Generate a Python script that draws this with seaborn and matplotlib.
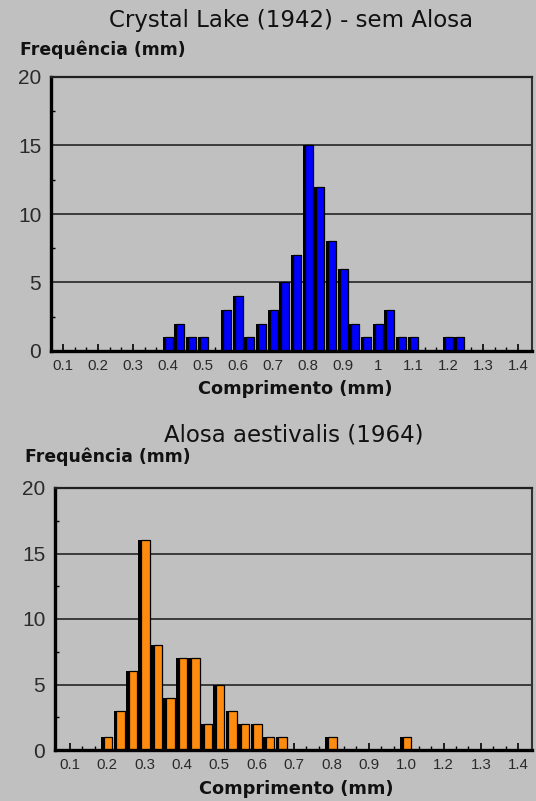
import matplotlib
matplotlib.use("Agg")
import matplotlib.pyplot as plt
import seaborn as sns
import pandas as pd
from matplotlib.ticker import FixedLocator, MultipleLocator

# Panel texts
crystal_title = "Crystal Lake (1942) - sem Alosa"
alosa_title = "Alosa aestivalis (1964)"
y_label = "Frequência (mm)"
x_label = "Comprimento (mm)"

# Counts per length class (three classes per 0.1 mm), first class at 0.1 mm
crystal_counts = [0, 0, 0, 0, 0, 0, 0, 0, 0,
                  1, 2, 1, 1, 0, 3, 4, 1, 2, 3, 5,
                  7, 15, 12, 8, 6, 2, 1, 2, 3, 1,
                  1, 0, 0, 1, 1, 0, 0, 0, 0, 0]
alosa_counts = [0, 0, 0, 1, 3, 6, 16, 8, 4, 7,
                7, 2, 5, 3, 2, 2, 1, 1, 0, 0,
                0, 1, 0, 0, 0, 0, 0, 1, 0, 0,
                0, 0, 0, 0, 0, 0, 0]

# Axis labels shown every third class
crystal_ticklabels = ["0.1", "0.2", "0.3", "0.4", "0.5", "0.6", "0.7",
                      "0.8", "0.9", "1", "1.1", "1.2", "1.3", "1.4"]
alosa_ticklabels = ["0.1", "0.2", "0.3", "0.4", "0.5", "0.6", "0.7",
                    "0.8", "0.9", "1.0", "1.2", "1.3", "1.4"]
y_ticks = [0, 5, 10, 15, 20]

BG = "#C0C0C0"
W, H = 536, 801
WIDE = ["DejaVu Sans"]

sns.set_theme(style="white")
plt.rcParams["font.family"] = ["Liberation Sans", "DejaVu Sans"]

fig = plt.figure(figsize=(W / 100, H / 100), dpi=100, facecolor=BG)


def px_axes(left, top, right, bottom):
    return fig.add_axes([left / W, 1 - bottom / H, (right - left) / W, (bottom - top) / H])


def draw_panel(ax, counts, color, ticklabels, xlim, outer_w, inner_w):
    ax.set_facecolor(BG)
    df = pd.DataFrame({"classe": list(range(len(counts))), "n": counts})

    for y in y_ticks[1:-1]:
        ax.axhline(y, color="#303030", lw=1.3, zorder=0.5)

    # dark body / shadow of each bar
    sns.barplot(data=df, x="classe", y="n", color="black", saturation=1,
                width=outer_w, ax=ax, zorder=2, linewidth=0)
    n0 = len(ax.patches)
    # coloured face, pushed to the right so the shadow shows on the left
    sns.barplot(data=df, x="classe", y="n", color=color, saturation=1,
                width=inner_w, ax=ax, zorder=3, edgecolor="black", linewidth=0.9)
    shift = (outer_w - inner_w) / 2 - 0.05
    for p in ax.patches[n0:]:
        p.set_x(p.get_x() + shift)

    ax.set_xlim(*xlim)
    ax.set_ylim(0, 20)
    ax.set_xlabel("")
    ax.set_ylabel("")

    ax.xaxis.set_major_locator(FixedLocator([3 * i for i in range(len(ticklabels))]))
    ax.set_xticklabels(ticklabels)
    ax.xaxis.set_minor_locator(FixedLocator(list(range(len(counts)))))
    ax.set_yticks(y_ticks)
    ax.yaxis.set_minor_locator(MultipleLocator(2.5))

    ax.tick_params(axis="x", which="major", direction="in", length=5, width=1.2,
                   color="black", labelsize=10.8, labelcolor="#2a2a2a", pad=6)
    ax.tick_params(axis="x", which="minor", direction="in", length=3, width=1.0,
                   color="black")
    ax.tick_params(axis="y", which="major", direction="in", length=0,
                   labelsize=15, labelcolor="#2a2a2a", pad=7)
    ax.tick_params(axis="y", which="minor", direction="in", length=3, width=1.0,
                   color="black")
    ax.tick_params(bottom=True, left=True, top=False, right=False, which="both")

    ax.set_axisbelow(False)
    for side, lw, col in (("left", 2.4, "black"), ("bottom", 2.4, "black"),
                          ("top", 1.6, "#202020"), ("right", 1.5, "#303030")):
        ax.spines[side].set_visible(True)
        ax.spines[side].set_linewidth(lw)
        ax.spines[side].set_color(col)
        ax.spines[side].set_zorder(5)


ax_top = px_axes(51, 77, 532, 351)
draw_panel(ax_top, crystal_counts, "#0000FF", crystal_ticklabels,
           (-1.03, 40.2), 0.9, 0.68)

ax_bot = px_axes(55, 488, 532, 750)
draw_panel(ax_bot, alosa_counts, "#FF8C10", alosa_ticklabels,
           (-1.17, 37.1), 0.95, 0.68)

# titles and axis captions
title_kw = dict(ha="center", va="center", fontsize=16.5, color="#111111", family=WIDE)
ylab_kw = dict(ha="left", va="center", fontsize=12.4, fontweight="bold",
               color="#111111", family=WIDE)
xlab_kw = dict(ha="center", va="center", fontsize=12.8, fontweight="bold",
               color="#111111", family=WIDE)

fig.text(291 / W, 1 - 21 / H, crystal_title, **title_kw)
fig.text(20 / W, 1 - 50 / H, y_label, **ylab_kw)
fig.text(295 / W, 1 - 389 / H, x_label, **xlab_kw)

fig.text(294 / W, 1 - 435 / H, alosa_title, **title_kw)
fig.text(25 / W, 1 - 457 / H, y_label, **ylab_kw)
fig.text(296 / W, 1 - 789 / H, x_label, **xlab_kw)

fig.savefig("out.png", dpi=100, facecolor=BG)
